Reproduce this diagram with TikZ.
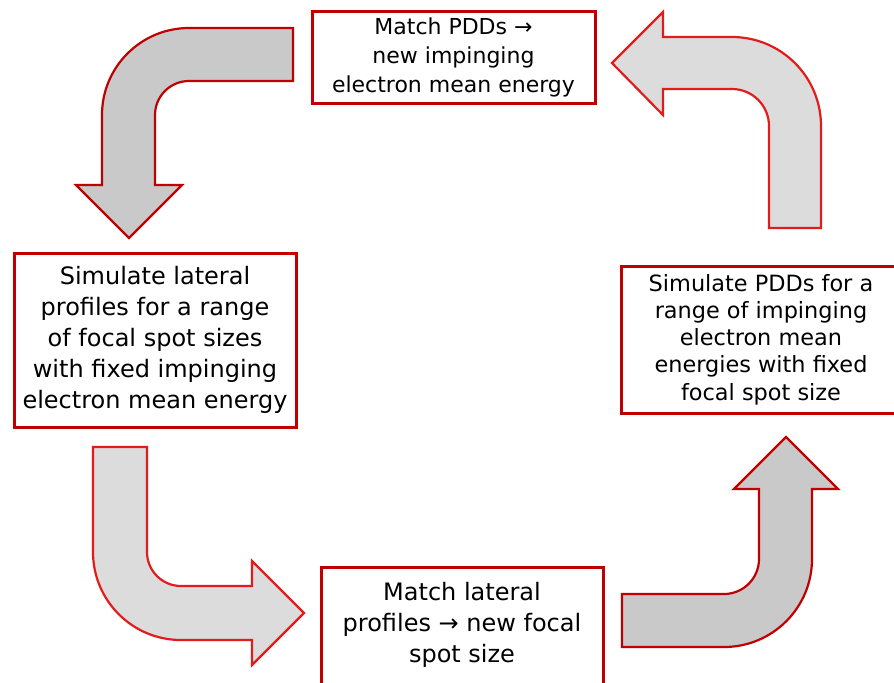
\documentclass[tikz,border=0pt]{standalone}
\usepackage{fontspec}
\setmainfont{DejaVu Sans}
\definecolor{boxred}{HTML}{C00000}
\definecolor{arrred}{HTML}{E21B1B}
\definecolor{darkfill}{HTML}{C9C9C9}
\definecolor{lightfill}{HTML}{DCDCDC}
\tikzset{
  stepbox/.style={draw=boxred,fill=white,line width=1.5pt,
                  align=center,inner sep=2pt},
  bigtext/.style={font=\fontsize{12}{15.5}\selectfont},
  darkarr/.style={draw=boxred,fill=darkfill,line width=1.1pt},
  lightarr/.style={draw=arrred,fill=lightfill,line width=1.1pt}
}

\begin{document}
\begin{tikzpicture}[x=0.5pt,y=-0.5pt]
  \useasboundingbox (0,0) rectangle (894,682);

  \node[stepbox,font=\fontsize{11}{14.5}\selectfont,
        minimum width=141.5pt,minimum height=46pt] (matchpdd) at (453.5,57)
    {Match PDDs →\\new impinging\\electron mean energy};
  \node[stepbox,bigtext,minimum width=141pt,minimum height=87pt] (simlat) at (155,340)
    {Simulate lateral\\profiles for a range\\of focal spot sizes\\with fixed impinging\\electron mean energy};
  \node[stepbox,bigtext,minimum width=141pt,anchor=north,
        text height=43.5pt,text depth=15pt,inner sep=4pt] (matchlat) at (462,566)
    {Match lateral\\profiles → new focal\\spot size};
  \node[stepbox,font=\fontsize{11.2}{13.6}\selectfont,
        minimum width=140pt,minimum height=73.5pt] (simpdd) at (761,339.5)
    {Simulate PDDs for a\\range of impinging\\electron mean\\energies with fixed\\focal spot size};

  % bent arrows round the cycle
  \draw[darkarr] (293,28) -- (189,28) arc[start angle=270,end angle=180,radius=87]
    -- (102,185) -- (76,185) -- (129,238) -- (182,185) -- (155,185) -- (155,115)
    arc[start angle=180,end angle=270,radius=34] -- (293,81) -- cycle;
  \draw[lightarr] (93,447) -- (147,447) -- (147,552)
    arc[start angle=180,end angle=90,radius=34] -- (252,586) -- (252,561)
    -- (304,613) -- (252,665) -- (252,640) -- (181,640)
    arc[start angle=90,end angle=180,radius=88] -- cycle;
  \draw[darkarr] (622,594) -- (724,594) arc[start angle=90,end angle=0,radius=35]
    -- (759,489) -- (734,489) -- (786,437) -- (838,489) -- (812,489) -- (812,559)
    arc[start angle=0,end angle=90,radius=88] -- (622,647) -- cycle;
  \draw[lightarr] (612,63) -- (663,12) -- (663,37) -- (732,37)
    arc[start angle=270,end angle=360,radius=89] -- (821,228) -- (769,228)
    -- (769,126) arc[start angle=0,end angle=-90,radius=37] -- (663,89)
    -- (663,115) -- cycle;
\end{tikzpicture}
\end{document}
